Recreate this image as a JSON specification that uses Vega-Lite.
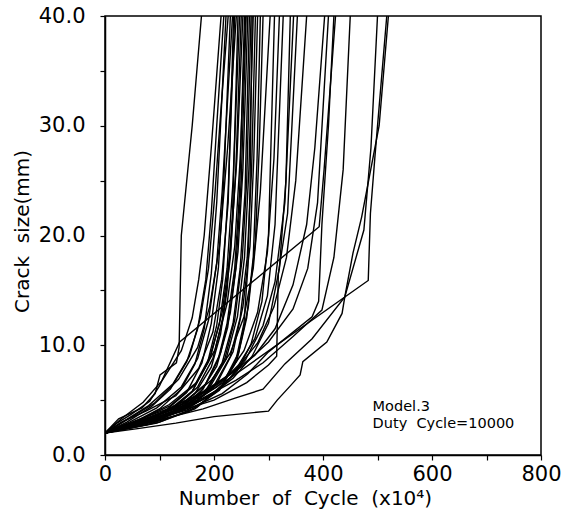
{
  "$schema": "https://vega.github.io/schema/vega-lite/v6.json",
  "width": 436,
  "height": 439,
  "autosize": {"type": "none"},
  "padding": {"left": 105, "top": 16, "right": 29, "bottom": 57},
  "background": "white",
  "config": {
    "view": {"stroke": "black", "strokeWidth": 1.5},
    "font": "DejaVu Sans",
    "axis": {
      "domainColor": "black", "domainWidth": 1.5, "tickColor": "black", "tickWidth": 1.2,
      "labelColor": "black", "titleColor": "black", "labelFont": "DejaVu Sans",
      "titleFont": "DejaVu Sans", "titleFontWeight": "normal", "labelFontWeight": "normal", "grid": false
    }
  },
  "datasets": {
    "notes": [
      {"n": 491, "a": 4.4, "label": "Model.3"},
      {"n": 491, "a": 2.85, "label": "Duty\u00a0 Cycle=10000"}
    ],
    "curves": [
      {"id":"L1","n":0,"a":2},{"id":"L1","n":25,"a":3.3},{"id":"L1","n":68,"a":4.3},{"id":"L1","n":92,"a":5.6},{"id":"L1","n":101,"a":7.3},{"id":"L1","n":131,"a":8.4},{"id":"L1","n":136,"a":9.8},{"id":"L1","n":140,"a":20},{"id":"L1","n":160,"a":30},{"id":"L1","n":177,"a":40},
      {"id":"D1","n":0,"a":2},{"id":"D1","n":22,"a":2.9},{"id":"D1","n":48,"a":3.7},{"id":"D1","n":82,"a":4.9},{"id":"D1","n":100,"a":6.3},{"id":"D1","n":137,"a":10.3},{"id":"D1","n":393,"a":20.8},{"id":"D1","n":402,"a":26},{"id":"D1","n":423,"a":40},
      {"id":"R1","n":0,"a":2},{"id":"R1","n":60,"a":2.4},{"id":"R1","n":130,"a":2.9},{"id":"R1","n":200,"a":3.5},{"id":"R1","n":300,"a":4.0},{"id":"R1","n":316,"a":5.0},{"id":"R1","n":340,"a":6.3},{"id":"R1","n":358,"a":7.3},{"id":"R1","n":363,"a":8.5},{"id":"R1","n":407,"a":10.3},{"id":"R1","n":435,"a":12.9},{"id":"R1","n":440,"a":14.4},{"id":"R1","n":455,"a":18.4},{"id":"R1","n":471,"a":21.7},{"id":"R1","n":503,"a":30},{"id":"R1","n":520,"a":40},
      {"id":"R2","n":0,"a":2},{"id":"R2","n":70,"a":3.0},{"id":"R2","n":150,"a":4.4},{"id":"R2","n":235,"a":7.2},{"id":"R2","n":483,"a":15.9},{"id":"R2","n":487,"a":22},{"id":"R2","n":495,"a":27},{"id":"R2","n":517,"a":40},
      {"id":"R3","n":0,"a":2},{"id":"R3","n":90,"a":3.1},{"id":"R3","n":180,"a":4.2},{"id":"R3","n":240,"a":5.2},{"id":"R3","n":290,"a":6.0},{"id":"R3","n":330,"a":8.3},{"id":"R3","n":380,"a":10.6},{"id":"R3","n":440,"a":14.4},{"id":"R3","n":475,"a":20.5},{"id":"R3","n":488,"a":28},{"id":"R3","n":500,"a":40},
      {"id":"C1","n":0,"a":2},{"id":"C1","n":60,"a":2.9},{"id":"C1","n":120,"a":3.8},{"id":"C1","n":180,"a":5.2},{"id":"C1","n":240,"a":6.8},{"id":"C1","n":290,"a":8.4},{"id":"C1","n":345,"a":10.8},{"id":"C1","n":398,"a":13.2},{"id":"C1","n":420,"a":18},{"id":"C1","n":437,"a":26},{"id":"C1","n":450,"a":40},
      {"id":"C2","n":0,"a":2},{"id":"C2","n":75,"a":3.0},{"id":"C2","n":150,"a":4.1},{"id":"C2","n":215,"a":5.6},{"id":"C2","n":262,"a":7.4},{"id":"C2","n":300,"a":9.4},{"id":"C2","n":380,"a":12.6},{"id":"C2","n":392,"a":14},{"id":"C2","n":398,"a":21},{"id":"C2","n":410,"a":30},{"id":"C2","n":420,"a":40},
      {"id":"C3","n":0,"a":2},{"id":"C3","n":70,"a":3.2},{"id":"C3","n":140,"a":4.6},{"id":"C3","n":200,"a":6.3},{"id":"C3","n":255,"a":8.2},{"id":"C3","n":300,"a":10.3},{"id":"C3","n":345,"a":13.3},{"id":"C3","n":372,"a":17},{"id":"C3","n":390,"a":23},{"id":"C3","n":410,"a":40},
      {"id":"C4","n":0,"a":2},{"id":"C4","n":55,"a":3.1},{"id":"C4","n":115,"a":4.2},{"id":"C4","n":175,"a":5.6},{"id":"C4","n":230,"a":7.4},{"id":"C4","n":275,"a":9.1},{"id":"C4","n":312,"a":11.5},{"id":"C4","n":345,"a":15.5},{"id":"C4","n":370,"a":21},{"id":"C4","n":385,"a":28},{"id":"C4","n":403,"a":40},
      {"id":"C5","n":0,"a":2},{"id":"C5","n":65,"a":3.0},{"id":"C5","n":130,"a":4.3},{"id":"C5","n":190,"a":5.9},{"id":"C5","n":240,"a":7.8},{"id":"C5","n":280,"a":10.2},{"id":"C5","n":310,"a":13.5},{"id":"C5","n":333,"a":18},{"id":"C5","n":350,"a":25},{"id":"C5","n":370,"a":40},
      {"id":"B5","n":0,"a":2},{"id":"B5","n":60,"a":2.8},{"id":"B5","n":130,"a":3.9},{"id":"B5","n":200,"a":5.0},{"id":"B5","n":260,"a":6.6},{"id":"B5","n":300,"a":8.2},{"id":"B5","n":315,"a":9.0},{"id":"B5","n":318,"a":16.5},{"id":"B5","n":335,"a":22},{"id":"B5","n":353,"a":40},
      {"id":"B1","n":0,"a":2},{"id":"B1","n":50,"a":2.9},{"id":"B1","n":100,"a":3.8},{"id":"B1","n":150,"a":5.0},{"id":"B1","n":195,"a":6.8},{"id":"B1","n":230,"a":9.3},{"id":"B1","n":255,"a":12.6},{"id":"B1","n":272,"a":17},{"id":"B1","n":285,"a":24},{"id":"B1","n":303,"a":40},
      {"id":"B2","n":0,"a":2},{"id":"B2","n":45,"a":2.7},{"id":"B2","n":110,"a":3.7},{"id":"B2","n":170,"a":5.0},{"id":"B2","n":220,"a":7.0},{"id":"B2","n":255,"a":9.5},{"id":"B2","n":280,"a":13},{"id":"B2","n":298,"a":18.5},{"id":"B2","n":310,"a":27},{"id":"B2","n":320,"a":40},
      {"id":"B3","n":0,"a":2},{"id":"B3","n":80,"a":3.3},{"id":"B3","n":150,"a":4.6},{"id":"B3","n":205,"a":6.2},{"id":"B3","n":245,"a":8.2},{"id":"B3","n":275,"a":10.6},{"id":"B3","n":298,"a":14.5},{"id":"B3","n":312,"a":21},{"id":"B3","n":327,"a":40},
      {"id":"B4","n":0,"a":2},{"id":"B4","n":60,"a":2.8},{"id":"B4","n":130,"a":3.9},{"id":"B4","n":190,"a":5.3},{"id":"B4","n":235,"a":7.0},{"id":"B4","n":270,"a":9.0},{"id":"B4","n":300,"a":12},{"id":"B4","n":320,"a":17},{"id":"B4","n":332,"a":25},{"id":"B4","n":340,"a":40},
      {"id":"B6","n":0,"a":2},{"id":"B6","n":70,"a":2.9},{"id":"B6","n":140,"a":4.0},{"id":"B6","n":200,"a":5.6},{"id":"B6","n":242,"a":7.6},{"id":"B6","n":268,"a":10.1},{"id":"B6","n":288,"a":14},{"id":"B6","n":300,"a":20},{"id":"B6","n":311,"a":40},
      {"id":"B7","n":0,"a":2},{"id":"B7","n":85,"a":3.1},{"id":"B7","n":160,"a":4.5},{"id":"B7","n":215,"a":6.2},{"id":"B7","n":258,"a":8.7},{"id":"B7","n":290,"a":11.8},{"id":"B7","n":312,"a":15.8},{"id":"B7","n":330,"a":23},{"id":"B7","n":346,"a":40},
      {"id":"A1","n":0,"a":2},{"id":"A1","n":30,"a":3.3},{"id":"A1","n":70,"a":4.8},{"id":"A1","n":105,"a":6.8},{"id":"A1","n":140,"a":9.5},{"id":"A1","n":160,"a":12.5},{"id":"A1","n":172,"a":16},{"id":"A1","n":182,"a":20},{"id":"A1","n":195,"a":28},{"id":"A1","n":213,"a":40},
      {"id":"A2","n":0,"a":2},{"id":"A2","n":40,"a":3.0},{"id":"A2","n":85,"a":4.4},{"id":"A2","n":120,"a":6.0},{"id":"A2","n":150,"a":8.5},{"id":"A2","n":170,"a":11.5},{"id":"A2","n":185,"a":16},{"id":"A2","n":195,"a":22},{"id":"A2","n":205,"a":30},{"id":"A2","n":218,"a":40},
      {"id":"A3","n":0,"a":2},{"id":"A3","n":50,"a":2.9},{"id":"A3","n":100,"a":4.2},{"id":"A3","n":140,"a":6.0},{"id":"A3","n":165,"a":8.3},{"id":"A3","n":182,"a":11.5},{"id":"A3","n":195,"a":16.5},{"id":"A3","n":205,"a":23},{"id":"A3","n":222,"a":40},
      {"id":"A4","n":0,"a":2},{"id":"A4","n":35,"a":3.1},{"id":"A4","n":80,"a":4.5},{"id":"A4","n":125,"a":6.5},{"id":"A4","n":155,"a":9.0},{"id":"A4","n":175,"a":12.5},{"id":"A4","n":190,"a":17},{"id":"A4","n":202,"a":24},{"id":"A4","n":212,"a":31},{"id":"A4","n":226,"a":40},
      {"id":"A5","n":0,"a":2},{"id":"A5","n":55,"a":2.8},{"id":"A5","n":110,"a":4.0},{"id":"A5","n":150,"a":5.7},{"id":"A5","n":178,"a":8.4},{"id":"A5","n":195,"a":12},{"id":"A5","n":208,"a":17},{"id":"A5","n":218,"a":25},{"id":"A5","n":230,"a":40},
      {"id":"A6","n":0,"a":2},{"id":"A6","n":45,"a":3.0},{"id":"A6","n":95,"a":4.3},{"id":"A6","n":140,"a":6.2},{"id":"A6","n":170,"a":8.8},{"id":"A6","n":190,"a":12.3},{"id":"A6","n":205,"a":17.5},{"id":"A6","n":215,"a":24},{"id":"A6","n":234,"a":40},
      {"id":"A7","n":0,"a":2},{"id":"A7","n":60,"a":2.9},{"id":"A7","n":120,"a":4.1},{"id":"A7","n":160,"a":5.8},{"id":"A7","n":188,"a":8.4},{"id":"A7","n":205,"a":11.8},{"id":"A7","n":216,"a":16},{"id":"A7","n":226,"a":24},{"id":"A7","n":238,"a":40},
      {"id":"A8","n":0,"a":2},{"id":"A8","n":40,"a":3.2},{"id":"A8","n":90,"a":4.7},{"id":"A8","n":135,"a":6.9},{"id":"A8","n":170,"a":9.8},{"id":"A8","n":192,"a":13.5},{"id":"A8","n":210,"a":19},{"id":"A8","n":225,"a":28},{"id":"A8","n":241,"a":40},
      {"id":"A9","n":0,"a":2},{"id":"A9","n":65,"a":2.9},{"id":"A9","n":125,"a":4.0},{"id":"A9","n":165,"a":5.6},{"id":"A9","n":195,"a":8.0},{"id":"A9","n":212,"a":11},{"id":"A9","n":224,"a":15},{"id":"A9","n":234,"a":22},{"id":"A9","n":244,"a":40},
      {"id":"A10","n":0,"a":2},{"id":"A10","n":50,"a":2.8},{"id":"A10","n":115,"a":4.0},{"id":"A10","n":160,"a":5.8},{"id":"A10","n":190,"a":8.5},{"id":"A10","n":210,"a":12},{"id":"A10","n":224,"a":17},{"id":"A10","n":235,"a":25},{"id":"A10","n":247,"a":40},
      {"id":"A11","n":0,"a":2},{"id":"A11","n":70,"a":3.0},{"id":"A11","n":130,"a":4.4},{"id":"A11","n":170,"a":6.2},{"id":"A11","n":198,"a":8.8},{"id":"A11","n":216,"a":12.5},{"id":"A11","n":230,"a":18},{"id":"A11","n":240,"a":26},{"id":"A11","n":250,"a":40},
      {"id":"A12","n":0,"a":2},{"id":"A12","n":55,"a":3.0},{"id":"A12","n":120,"a":4.5},{"id":"A12","n":165,"a":6.4},{"id":"A12","n":195,"a":9.2},{"id":"A12","n":215,"a":13},{"id":"A12","n":230,"a":18.5},{"id":"A12","n":242,"a":27},{"id":"A12","n":253,"a":40},
      {"id":"A13","n":0,"a":2},{"id":"A13","n":80,"a":3.1},{"id":"A13","n":140,"a":4.3},{"id":"A13","n":180,"a":6.0},{"id":"A13","n":207,"a":8.6},{"id":"A13","n":224,"a":12},{"id":"A13","n":238,"a":17},{"id":"A13","n":247,"a":24},{"id":"A13","n":256,"a":40},
      {"id":"A14","n":0,"a":2},{"id":"A14","n":60,"a":2.7},{"id":"A14","n":125,"a":3.9},{"id":"A14","n":175,"a":5.7},{"id":"A14","n":205,"a":8.1},{"id":"A14","n":225,"a":11.6},{"id":"A14","n":240,"a":17},{"id":"A14","n":250,"a":25},{"id":"A14","n":259,"a":40},
      {"id":"A15","n":0,"a":2},{"id":"A15","n":75,"a":3.2},{"id":"A15","n":140,"a":4.6},{"id":"A15","n":185,"a":6.5},{"id":"A15","n":212,"a":9.3},{"id":"A15","n":230,"a":13},{"id":"A15","n":244,"a":18.5},{"id":"A15","n":253,"a":26},{"id":"A15","n":262,"a":40},
      {"id":"A16","n":0,"a":2},{"id":"A16","n":65,"a":2.8},{"id":"A16","n":135,"a":4.1},{"id":"A16","n":185,"a":5.9},{"id":"A16","n":215,"a":8.4},{"id":"A16","n":235,"a":12},{"id":"A16","n":248,"a":17},{"id":"A16","n":257,"a":24},{"id":"A16","n":265,"a":40},
      {"id":"A17","n":0,"a":2},{"id":"A17","n":90,"a":3.2},{"id":"A17","n":150,"a":4.4},{"id":"A17","n":190,"a":6.2},{"id":"A17","n":220,"a":8.8},{"id":"A17","n":238,"a":12.3},{"id":"A17","n":252,"a":18},{"id":"A17","n":260,"a":25},{"id":"A17","n":268,"a":40},
      {"id":"A18","n":0,"a":2},{"id":"A18","n":70,"a":2.9},{"id":"A18","n":140,"a":4.2},{"id":"A18","n":190,"a":6.0},{"id":"A18","n":222,"a":8.7},{"id":"A18","n":243,"a":12.6},{"id":"A18","n":256,"a":18},{"id":"A18","n":264,"a":26},{"id":"A18","n":272,"a":40},
      {"id":"A19","n":0,"a":2},{"id":"A19","n":85,"a":3.0},{"id":"A19","n":155,"a":4.4},{"id":"A19","n":200,"a":6.3},{"id":"A19","n":230,"a":9.0},{"id":"A19","n":248,"a":12.5},{"id":"A19","n":261,"a":18},{"id":"A19","n":269,"a":26},{"id":"A19","n":276,"a":40},
      {"id":"A20","n":0,"a":2},{"id":"A20","n":95,"a":3.1},{"id":"A20","n":160,"a":4.5},{"id":"A20","n":205,"a":6.5},{"id":"A20","n":235,"a":9.4},{"id":"A20","n":253,"a":13.5},{"id":"A20","n":266,"a":19},{"id":"A20","n":273,"a":27},{"id":"A20","n":280,"a":40},
      {"id":"A21","n":0,"a":2},{"id":"A21","n":80,"a":2.8},{"id":"A21","n":155,"a":4.0},{"id":"A21","n":210,"a":5.9},{"id":"A21","n":242,"a":8.6},{"id":"A21","n":260,"a":12.5},{"id":"A21","n":272,"a":18},{"id":"A21","n":279,"a":27},{"id":"A21","n":285,"a":40},
      {"id":"A22","n":0,"a":2},{"id":"A22","n":100,"a":3.0},{"id":"A22","n":170,"a":4.4},{"id":"A22","n":215,"a":6.4},{"id":"A22","n":245,"a":9.3},{"id":"A22","n":263,"a":13.5},{"id":"A22","n":276,"a":19.5},{"id":"A22","n":283,"a":28},{"id":"A22","n":290,"a":40},
      {"id":"A23","n":0,"a":2},{"id":"A23","n":30,"a":3.0},{"id":"A23","n":75,"a":4.0},{"id":"A23","n":130,"a":5.4},{"id":"A23","n":172,"a":7.9},{"id":"A23","n":198,"a":11.2},{"id":"A23","n":214,"a":16},{"id":"A23","n":226,"a":23},{"id":"A23","n":236,"a":40},
      {"id":"A24","n":0,"a":2},{"id":"A24","n":60,"a":3.1},{"id":"A24","n":118,"a":4.6},{"id":"A24","n":168,"a":6.6},{"id":"A24","n":202,"a":9.6},{"id":"A24","n":224,"a":13.8},{"id":"A24","n":238,"a":19},{"id":"A24","n":248,"a":27},{"id":"A24","n":258,"a":40},
      {"id":"A25","n":0,"a":2},{"id":"A25","n":95,"a":2.9},{"id":"A25","n":165,"a":4.2},{"id":"A25","n":212,"a":6.1},{"id":"A25","n":240,"a":8.6},{"id":"A25","n":255,"a":12},{"id":"A25","n":262,"a":17},{"id":"A25","n":266,"a":24},{"id":"A25","n":270,"a":40}
    ]
  },
  "layer": [
    {
      "data": {"name": "curves"},
      "mark": {"type": "line", "color": "black", "strokeWidth": 1.4, "clip": true},
      "encoding": {
        "x": {
          "field": "n", "type": "quantitative",
          "scale": {"domain": [0, 800], "nice": false},
          "axis": {
            "values": [0, 100, 200, 300, 400, 500, 600, 700, 800],
            "labelExpr": "datum.value % 200 == 0 ? datum.label : ''",
            "tickSize": 5, "labelFontSize": 21, "labelPadding": 3, "labelFlush": false,
            "title": "Number\u00a0 of\u00a0 Cycle\u00a0 (x10⁴)", "titleFontSize": 20,
            "titleX": 200, "titleY": 43, "titleBaseline": "middle", "titleAnchor": "middle"
          }
        },
        "y": {
          "field": "a", "type": "quantitative",
          "scale": {"domain": [0, 40], "nice": false},
          "axis": {
            "values": [0, 5, 10, 15, 20, 25, 30, 35, 40],
            "format": ".1f",
            "labelExpr": "datum.value % 10 == 0 ? datum.label : ''",
            "tickSize": 5, "labelFontSize": 21, "labelPadding": 15, "labelFlush": false,
            "title": "Crack\u00a0 size(mm)", "titleFontSize": 20,
            "titleX": -83, "titleY": 215, "titleAngle": -90, "titleBaseline": "middle", "titleAnchor": "middle"
          }
        },
        "detail": {"field": "id"}
      }
    },
    {
      "data": {"name": "notes"},
      "mark": {"type": "text", "align": "left", "baseline": "middle", "fontSize": 14.5, "font": "DejaVu Sans", "color": "black"},
      "encoding": {
        "x": {"field": "n", "type": "quantitative"},
        "y": {"field": "a", "type": "quantitative"},
        "text": {"field": "label"}
      }
    }
  ]
}
